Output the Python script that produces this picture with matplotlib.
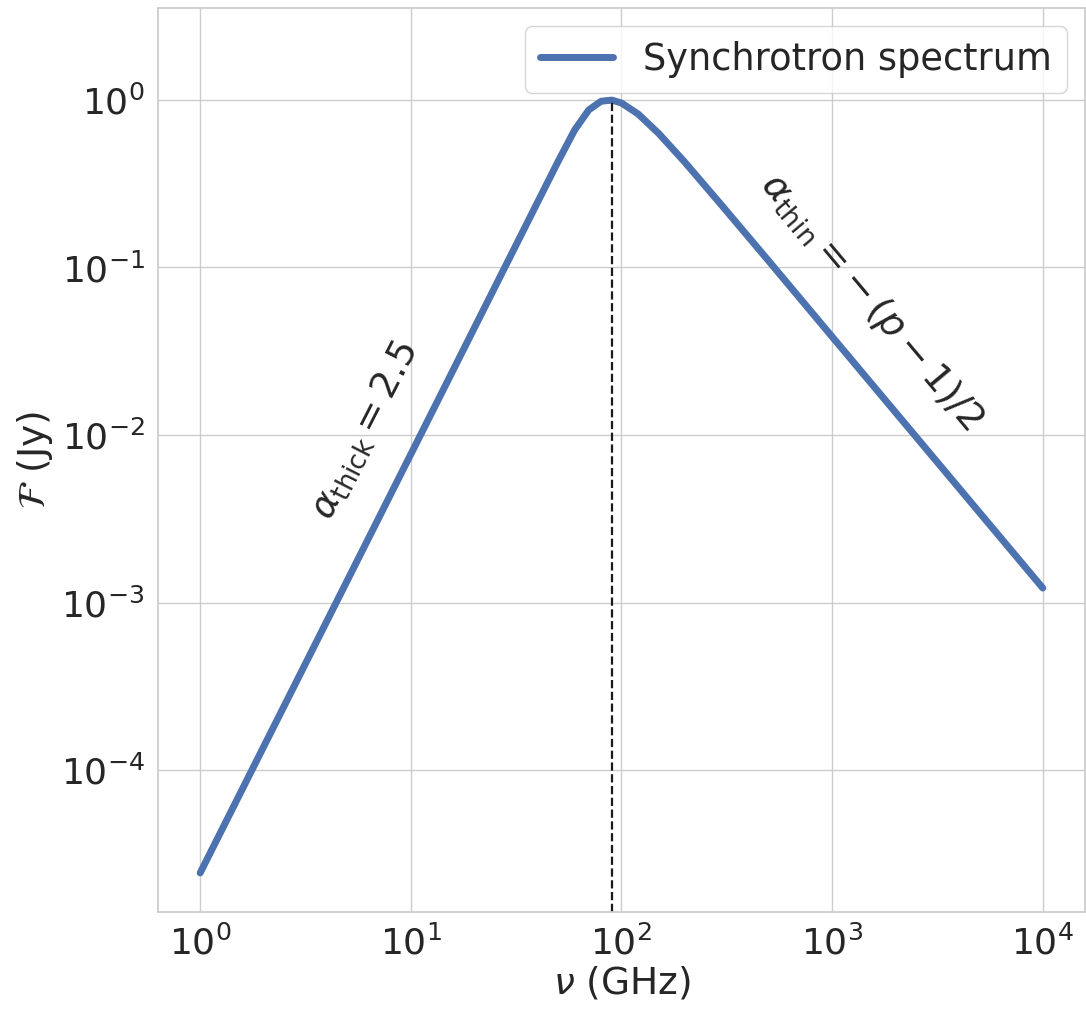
import matplotlib
matplotlib.use("Agg")
import matplotlib.pyplot as plt
import seaborn as sns

sns.set_theme(style="whitegrid")
plt.rcParams['font.family'] = ['DejaVu Sans']

# values (GHz, Jy)
nu = [1.0, 10.0, 20.0, 30.0, 40.0, 50.0, 60.0, 70.0, 80.0, 90.0, 100.0, 120.0, 150.0, 200.0, 300.0, 500.0, 1000.0, 10000.0]
flux = [2.43e-5, 7.67e-3, 0.0434, 0.1196, 0.2456, 0.4289, 0.6628, 0.8723, 0.9821, 0.998, 0.9589, 0.8243, 0.632, 0.4247, 0.234, 0.1093, 0.0386, 1.22e-3]
nu_peak = 89.7
flux_peak = 1.0

fig = plt.figure(figsize=(10.86, 10.09), dpi=100)
ax = fig.add_axes([0.1455, 0.0961, 0.8535, 0.8960])

ax.plot(nu, flux, color='#4c72b0', lw=5, solid_capstyle='round', label='Synchrotron spectrum')
ax.set_xscale('log')
ax.set_yscale('log')
ax.set_ylim(1.42e-5, 3.54)
ax.vlines(nu_peak, 1.42e-5, flux_peak, colors='k', linestyles='--', lw=1.6)

ax.text(6.0, 0.0107, r'$\alpha_{\rm thick} = 2.5$', rotation=63, ha='center', va='center', fontsize=27, color='#262626')
ax.text(1530, 0.062, r'$\alpha_{\rm thin} = -\,(p-1)/2$', rotation=-50, ha='center', va='center', fontsize=27.5, color='#262626')

ax.set_xlabel(r'$\nu$ (GHz)', fontsize=27, labelpad=2)
ax.set_ylabel(r'$\mathcal{F}$ (Jy)', fontsize=27, labelpad=4)
ax.tick_params(labelsize=26)
ax.legend(loc='upper right', fontsize=26.5, handlelength=2)

fig.savefig('out.png', dpi=100)
